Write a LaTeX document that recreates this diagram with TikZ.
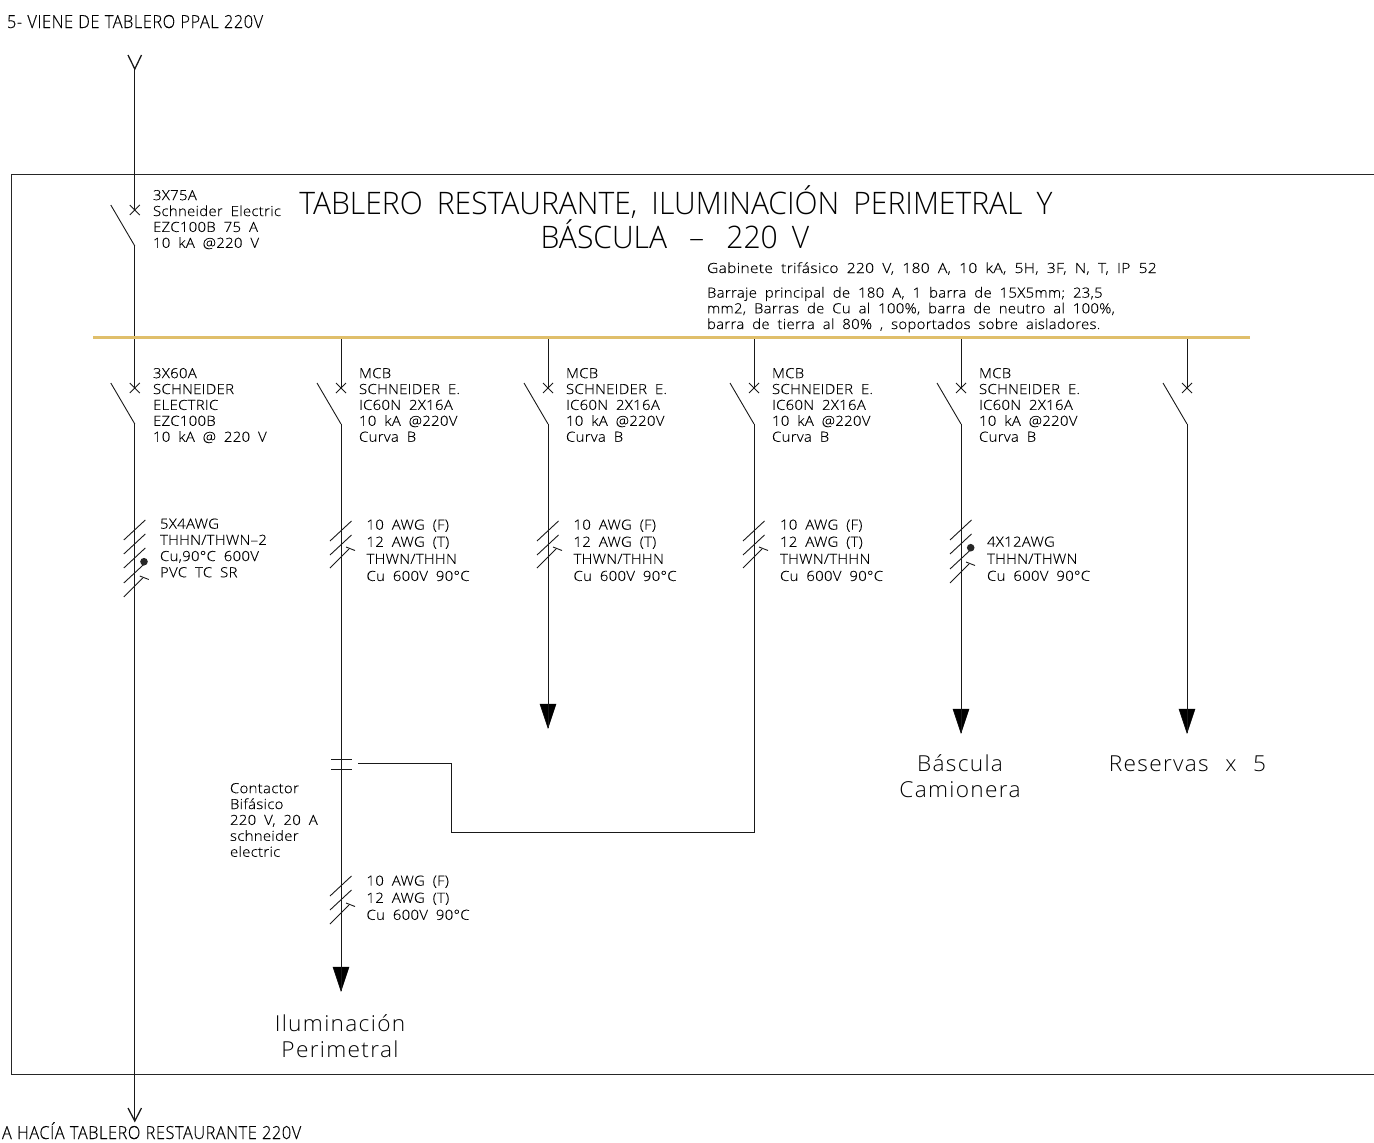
\documentclass[tikz,border=0pt]{standalone}
\usepackage{fontspec}
\setmainfont{Open Sans Light}
\newfontfamily\smallf[WordSpace=1.9,LetterSpace=2,FakeStretch=1.07,FakeBold=0.15]{Open Sans Light}
\newfontfamily\gabf[WordSpace=1.9,LetterSpace=2,FakeStretch=1.115,FakeBold=0.15]{Open Sans Light}
\newfontfamily\bigf[WordSpace=2.3,LetterSpace=6,FakeStretch=1.03]{Open Sans Light}
\newfontfamily\titlef[WordSpace=1.8,FakeStretch=0.97]{Open Sans Light}
\newfontfamily\condf[WordSpace=1.1,LetterSpace=3,FakeStretch=0.91,FakeBold=0.15]{Open Sans Light}
\definecolor{busgold}{HTML}{E0BF6B}
\tikzset{
  wire/.style={line width=0.9pt,draw=black!90},
  frameline/.style={line width=0.9pt,draw=black!85},
  bus/.style={line width=3pt,draw=busgold},
  head/.style={fill=black,draw=black,line width=0.5pt},
  lbl/.style={anchor=north west,inner sep=0pt,outer sep=0pt,align=left,font=\smallf\fontsize{14}{15.9}\selectfont,execute at begin node={\rule{0pt}{12pt}}},
  gabl/.style={lbl,font=\gabf\fontsize{14}{15.7}\selectfont},
  barl/.style={lbl,font=\smallf\fontsize{14}{15.7}\selectfont},
  cablel/.style={lbl,font=\smallf\fontsize{14}{17.1}\selectfont},
  biglbl/.style={anchor=base,inner sep=0pt,outer sep=0pt,align=center,font=\bigf\fontsize{22}{26}\selectfont},
  titlel/.style={anchor=base,inner sep=0pt,outer sep=0pt,font=\titlef\fontsize{31}{34}\selectfont},
  condl/.style={anchor=base west,inner sep=0pt,outer sep=0pt,font=\condf\fontsize{18}{20}\selectfont}
}
% breaker: name, x, y of the cross
\newcommand\breakerat[3]{%
  \coordinate (#1) at (#2,#3);
  \coordinate (#1out) at (#2,#3+36);
  \draw[wire] (#2-5,#3-5) -- (#2+5,#3+5) (#2-5,#3+5) -- (#2+5,#3-5);
  \draw[wire] (#2-24,#3-5) -- (#1out);
}
\newcommand\slashat[2]{%
  \draw[wire] (#1-11,#2+20) -- (#1+10.5,#2);
}
\newcommand\tslashat[2]{%
  \draw[wire] (#1-11,#2+20) -- (#1+8,#2+1);
  \draw[wire] (#1+5,#2-1) -- (#1+14,#2+2.5);
}
\newcommand\headat[2]{%
  \coordinate (tip#1) at (#1,#2);
  \fill[head] (#1-8,#2-24) -- (#1+8,#2-24) -- (#1,#2) -- cycle;
}
\begin{document}
\begin{tikzpicture}[x=1pt,y=-1pt]
\useasboundingbox (0,0) rectangle (1374,1143);
% frame
\draw[frameline] (1374,174) -- (11,174) -- (11,1074) -- (1374,1074);

% main feeder
\coordinate (inY) at (134.8,69);
\coordinate (inL) at (128,55);
\coordinate (inR) at (141.5,55);
\coordinate (outV) at (134.8,1121);
\coordinate (outL) at (128,1108);
\coordinate (outR) at (141.5,1108);
\draw[wire,line width=1.3pt] (inL) -- (inY) -- (inR);
\draw[wire,line width=1.3pt] (outL) -- (outV) -- (outR);
\breakerat{qa}{134.8}{210}
\breakerat{qb}{134.8}{388}
\draw[wire] (inY) -- (qa);
\draw[wire] (qaout) -- (qb);
\draw[wire] (qbout) -- (outV);

% bus tap points
\coordinate (busL) at (93,337.5);
\coordinate (busR) at (1250,337.5);
\coordinate (tb) at (341,337);
\coordinate (tc) at (548,337);
\coordinate (td) at (754,337);
\coordinate (te) at (961,337);
\coordinate (tf) at (1187,337);

% branches
\breakerat{qc}{341}{388}
\breakerat{qd}{548}{388}
\breakerat{qe}{754}{388}
\breakerat{qf}{961}{388}
\breakerat{qg}{1187}{388}
\draw[wire] (tb) -- (qc);
\draw[wire] (tc) -- (qd);
\draw[wire] (td) -- (qe);
\draw[wire] (te) -- (qf);
\draw[wire] (tf) -- (qg);
\headat{341}{991}
\headat{548}{728}
\headat{961}{733}
\headat{1187}{733}
\draw[wire] (qcout) -- (tip341);
\draw[wire] (qdout) -- (tip548);
\draw[wire] (qfout) -- (tip961);
\draw[wire] (qgout) -- (tip1187);

% contactor and control wire
\coordinate (ctA) at (331,759);
\coordinate (ctB) at (352,759);
\coordinate (ctC) at (331,769);
\coordinate (ctD) at (352,769);
\draw[wire] (ctA) -- (ctB) (ctC) -- (ctD);
\coordinate (wa) at (358,763);
\coordinate (wb) at (451,763);
\coordinate (wc) at (451,832);
\coordinate (wd) at (754,832);
\draw[wire] (qeout) -- (wd) -- (wc) -- (wb) -- (wa);

% bus on top
\draw[bus] (busL) -- (busR);

% slashes
\slashat{134.8}{520} \slashat{134.8}{534} \slashat{134.8}{548}
\slashat{134.8}{563} \tslashat{134.8}{577}
\fill[black!85] (144,561.7) circle (3.8);
\foreach \xx in {341,548,754} {
  \slashat{\xx}{521} \slashat{\xx}{535} \tslashat{\xx}{548}
}
\slashat{341}{876} \slashat{341}{890} \tslashat{341}{904}
\slashat{961}{520} \slashat{961}{534} \slashat{961}{549} \tslashat{961}{563}
\fill[black!85] (970.7,547.7) circle (3.8);

% texts
\node[condl] (top) at (7,28) {5- VIENE DE TABLERO PPAL 220V};
\node[condl] (bot) at (2,1139) {A HACÍA TABLERO RESTAURANTE 220V};
\node[titlel] (t1) at (676,214) {TABLERO RESTAURANTE, ILUMINACIÓN PERIMETRAL Y};
\node[titlel] (t2) at (675,248) {BÁSCULA\hspace{8pt} – \hspace{8pt}220 V};

\node[lbl] (l1) at (153,190) {3X75A\\Schneider Electric\\EZC100B 75 A\\10 kA @220 V};
\node[lbl] (l2) at (153,368) {3X60A\\SCHNEIDER\\ELECTRIC\\EZC100B\\10 kA @ 220 V};
\node[gabl] (g1) at (707,261) {Gabinete trifásico 220 V, 180 A, 10 kA, 5H, 3F, N, T, IP 52};
\node[barl] (g2) at (707,287) {Barraje principal de 180 A, 1 barra de 15X5mm; 23,5\\mm2, Barras de Cu al 100\%, barra de neutro al 100\%,\\barra de tierra al 80\% , soportados sobre aisladores.};
\foreach \xx/\nn in {359/a,566/b,772/c,979/d} {
  \node[lbl] (m\nn) at (\xx,368) {MCB\\SCHNEIDER E.\\IC60N 2X16A\\10 kA @220V\\Curva B};
}
\node[lbl,font=\smallf\fontsize{14}{16.2}\selectfont] (c1) at (160,518.5) {5X4AWG\\THHN/THWN–2\\Cu,90°C 600V\\PVC TC SR};
\foreach \xx/\nn in {366.5/a,573.5/b,780/c} {
  \node[cablel] (k\nn) at (\xx,519.5) {10 AWG (F)\\12 AWG (T)\\THWN/THHN\\Cu 600V 90°C};
}
\node[cablel] (c2) at (366.5,875.5) {10 AWG (F)\\12 AWG (T)\\Cu 600V 90°C};
\node[cablel] (c3) at (987,536.5) {4X12AWG\\THHN/THWN\\Cu 600V 90°C};
\node[lbl] (ct) at (230,783) {Contactor\\Bifásico\\220 V, 20 A\\schneider\\electric};
\node[biglbl] (b1) at (960,771) {Báscula};
\node[biglbl] (b2) at (960,797) {Camionera};
\node[biglbl] (r1) at (1187.5,771) {Reservas x 5};
\node[biglbl] (i1) at (340,1031) {Iluminación};
\node[biglbl] (i2) at (340,1057) {Perimetral};
\end{tikzpicture}
\end{document}
